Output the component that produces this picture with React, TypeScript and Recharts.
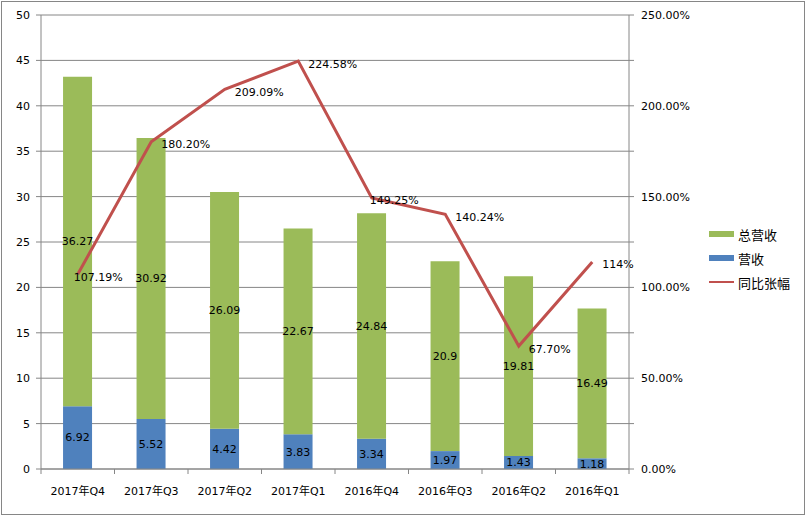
import { ComposedChart, Bar, Line, XAxis, YAxis, CartesianGrid, Legend, LabelList } from "recharts";

const quarters = ["2017年Q4", "2017年Q3", "2017年Q2", "2017年Q1", "2016年Q4", "2016年Q3", "2016年Q2", "2016年Q1"];
const revenue = [6.92, 5.52, 4.42, 3.83, 3.34, 1.97, 1.43, 1.18];
const totalRevenue = [36.27, 30.92, 26.09, 22.67, 24.84, 20.9, 19.81, 16.49];
const yoyGrowth = [107.19, 180.2, 209.09, 224.58, 149.25, 140.24, 67.7, 114];
const yoyLabels = ["107.19%", "180.20%", "209.09%", "224.58%", "149.25%", "140.24%", "67.70%", "114%"];
const leftTicks = [0, 5, 10, 15, 20, 25, 30, 35, 40, 45, 50];
const rightTicks = [0, 25, 50, 75, 100, 125, 150, 175, 200, 225, 250];

const data = quarters.map((q, i) => ({
  quarter: q,
  revenue: revenue[i],
  total: totalRevenue[i],
  yoy: yoyGrowth[i],
  yoyLabel: yoyLabels[i],
}));

const FONT = "'DejaVu Sans', 'Noto Sans CJK SC', sans-serif";
const GRAY = "#868686";
const PLOT_LEFT = 41;
const PLOT_RIGHT = 629;
const PLOT_BOTTOM = 469;
const BAND = (PLOT_RIGHT - PLOT_LEFT) / quarters.length;

// a couple of labels sit a bit further left in the original
const labelShift: Record<number, number> = { 0: -4, 4: -2 };

const QuarterTick = (props: any) => {
  const { x, payload, index } = props;
  const left = x - BAND / 2;
  return (
    <g>
      <line x1={left} x2={left} y1={PLOT_BOTTOM} y2={PLOT_BOTTOM + 5} stroke={GRAY} />
      {index === quarters.length - 1 && (
        <line x1={x + BAND / 2} x2={x + BAND / 2} y1={PLOT_BOTTOM} y2={PLOT_BOTTOM + 5} stroke={GRAY} />
      )}
      <text x={x} y={PLOT_BOTTOM + 26} textAnchor="middle" fontSize={11} fontFamily={FONT} fill="#000">
        {payload.value}
      </text>
    </g>
  );
};

const YoyLabel = (props: any) => {
  const { x, y, value, index } = props;
  const dx = labelShift[index] !== undefined ? labelShift[index] : 10;
  return (
    <text x={x + dx} y={y + 3} dominantBaseline="central" fontSize={11} fontFamily={FONT} fill="#000">
      {value}
    </text>
  );
};

const legendItems = [
  { name: "总营收", color: "#9BBB59", type: "bar" },
  { name: "营收", color: "#4F81BD", type: "bar" },
  { name: "同比张幅", color: "#C0504D", type: "line" },
];

const renderLegend = () => (
  <div style={{ fontFamily: FONT, fontSize: 13, color: "#000" }}>
    {legendItems.map((item) => (
      <div key={item.name} style={{ display: "flex", alignItems: "center", height: 24 }}>
        <span
          style={{
            display: "inline-block",
            width: 25,
            height: item.type === "bar" ? 6 : 2,
            background: item.color,
            marginRight: 4,
          }}
        />
        <span>{item.name}</span>
      </div>
    ))}
  </div>
);

export default function App() {
  return (
    <div style={{ position: "absolute", left: 0, top: 0, width: 806, height: 516, background: "#fff" }}>
      <div
        style={{
          position: "absolute",
          left: 1,
          top: 1,
          width: 802,
          height: 512,
          border: `1px solid ${GRAY}`,
        }}
      />
      <ComposedChart
        width={806}
        height={516}
        data={data}
        margin={{ top: 15, right: 117, bottom: 17, left: 0 }}
        barCategoryGap="30%"
        style={{ position: "absolute", left: 0, top: 0 }}
      >
        <CartesianGrid vertical={false} stroke={GRAY} yAxisId="left" />
        <XAxis
          dataKey="quarter"
          yAxisId="left"
          height={30}
          tickLine={false}
          axisLine={{ stroke: GRAY }}
          tick={<QuarterTick />}
          interval={0}
        />
        <YAxis
          yAxisId="left"
          width={41}
          domain={[0, 50]}
          ticks={leftTicks}
          interval={0}
          tickSize={5}
          tickMargin={6}
          axisLine={{ stroke: GRAY }}
          tickLine={{ stroke: GRAY }}
          tick={{ fontSize: 11, fontFamily: FONT, fill: "#000" }}
        />
        <YAxis
          yAxisId="right"
          orientation="right"
          width={60}
          domain={[0, 250]}
          ticks={rightTicks}
          interval={0}
          tickSize={5}
          tickMargin={7}
          axisLine={{ stroke: GRAY }}
          tickLine={{ stroke: GRAY }}
          tick={{ fontSize: 11, fontFamily: FONT, fill: "#000", textAnchor: "start" }}
          tickFormatter={(v: number) => (v % 50 === 0 ? `${v.toFixed(2)}%` : "")}
        />
        <Bar dataKey="revenue" name="营收" stackId="a" yAxisId="left" fill="#4F81BD" isAnimationActive={false}>
          <LabelList dataKey="revenue" position="center" fill="#000" fontSize={11} fontFamily={FONT} />
        </Bar>
        <Bar dataKey="total" name="总营收" stackId="a" yAxisId="left" fill="#9BBB59" isAnimationActive={false}>
          <LabelList dataKey="total" position="center" fill="#000" fontSize={11} fontFamily={FONT} />
        </Bar>
        <Line
          dataKey="yoy"
          name="同比张幅"
          yAxisId="right"
          type="linear"
          stroke="#C0504D"
          strokeWidth={3}
          dot={false}
          isAnimationActive={false}
        >
          <LabelList dataKey="yoyLabel" content={<YoyLabel />} />
        </Line>
        <Legend
          layout="vertical"
          align="center"
          verticalAlign="middle"
          content={renderLegend}
          wrapperStyle={{ position: "absolute", left: 709, top: 222, width: 95, height: 72 }}
        />
      </ComposedChart>
    </div>
  );
}
